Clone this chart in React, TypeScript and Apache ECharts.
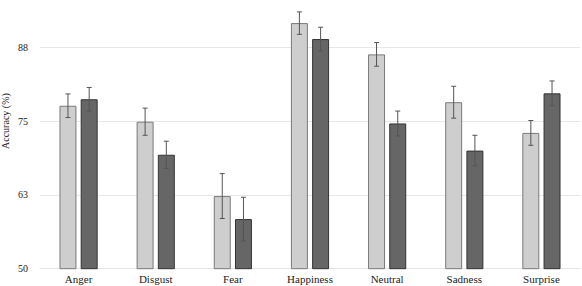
import React, { useEffect, useRef } from "react";
import * as echarts from "echarts";

const categories = ["Anger", "Disgust", "Fear", "Happiness", "Neutral", "Sadness", "Surprise"];
const lightValues = [77.6, 74.9, 62.3, 91.6, 86.3, 78.2, 73.0];
const lightErrors = [2.0, 2.3, 3.8, 1.9, 2.0, 2.7, 2.1];
const darkValues = [78.7, 69.3, 58.4, 88.9, 74.6, 70.0, 79.7];
const darkErrors = [2.0, 2.3, 3.7, 2.0, 2.1, 2.6, 2.1];
const yTicks = [50, 62.5, 75, 87.5, 100];

const FONT = "'Liberation Serif', 'DejaVu Serif', serif";
const BAR_RATIO = 0.22;
const GAP_RATIO = 0.25;
// The chart canvas extends above the page so the 100 line sits out of view.
const OVERHANG = 40;

function errorSeries(values: number[], errors: number[], side: number) {
  return {
    type: "custom",
    z: 5,
    data: values.map((v, i) => [i, v - errors[i], v + errors[i]]),
    renderItem: (_params: any, api: any) => {
      const idx = api.value(0);
      const band = api.size([1, 0])[0];
      const bw = band * BAR_RATIO;
      const offset = side * (bw / 2 + (bw * GAP_RATIO) / 2);
      const lo = api.coord([idx, api.value(1)]);
      const hi = api.coord([idx, api.value(2)]);
      const x = lo[0] + offset;
      const cap = 2.5;
      const style = { stroke: "#555", lineWidth: 1 };
      return {
        type: "group",
        children: [
          { type: "line", shape: { x1: x, y1: lo[1], x2: x, y2: hi[1] }, style },
          { type: "line", shape: { x1: x - cap, y1: hi[1], x2: x + cap, y2: hi[1] }, style },
          { type: "line", shape: { x1: x - cap, y1: lo[1], x2: x + cap, y2: lo[1] }, style },
        ],
      };
    },
  };
}

export default function App() {
  const ref = useRef<HTMLDivElement>(null);
  useEffect(() => {
    if (!ref.current) return;
    const chart = echarts.init(ref.current, null, { renderer: "svg" });
    chart.setOption({
      animation: false,
      backgroundColor: "#ffffff",
      grid: {
        left: 40,
        right: 2,
        top: OVERHANG - 26.5,
        bottom: 17.3,
        containLabel: false,
        outerBoundsMode: "none",
      },
      xAxis: {
        type: "category",
        data: categories,
        axisLine: { show: true, lineStyle: { color: "#e4e4e4" } },
        axisTick: { show: false },
        axisLabel: { fontFamily: FONT, fontSize: 11, color: "#222", margin: 5 },
      },
      yAxis: {
        type: "value",
        min: yTicks[0],
        max: yTicks[yTicks.length - 1],
        interval: yTicks[1] - yTicks[0],
        name: "Accuracy (%)",
        nameLocation: "middle",
        nameGap: 30,
        nameMoveOverlap: false,
        nameTextStyle: { fontFamily: FONT, fontSize: 10, color: "#222" },
        axisLine: { show: false },
        axisTick: { show: false },
        axisLabel: {
          fontFamily: FONT,
          fontSize: 10,
          color: "#222",
          margin: 12,
          showMaxLabel: false,
          formatter: (v: number) => String(Math.round(v)),
        },
        splitLine: { show: true, lineStyle: { color: "#e8e8e8", width: 1 } },
      },
      series: [
        {
          type: "bar",
          data: lightValues,
          barWidth: `${BAR_RATIO * 100}%`,
          barGap: `${GAP_RATIO * 100}%`,
          itemStyle: { color: "#cecece", borderColor: "#7a7a7a", borderWidth: 1 },
        },
        {
          type: "bar",
          data: darkValues,
          barWidth: `${BAR_RATIO * 100}%`,
          barGap: `${GAP_RATIO * 100}%`,
          itemStyle: { color: "#666666", borderColor: "#333333", borderWidth: 1 },
        },
        errorSeries(lightValues, lightErrors, -1),
        errorSeries(darkValues, darkErrors, 1),
      ],
    });
    return () => chart.dispose();
  }, []);
  return (
    <div style={{ position: "absolute", left: 0, top: 0, width: 582, height: 286, overflow: "hidden" }}>
      <div
        ref={ref}
        style={{ position: "absolute", left: 0, top: -OVERHANG, width: 582, height: 286 + OVERHANG }}
      />
    </div>
  );
}
